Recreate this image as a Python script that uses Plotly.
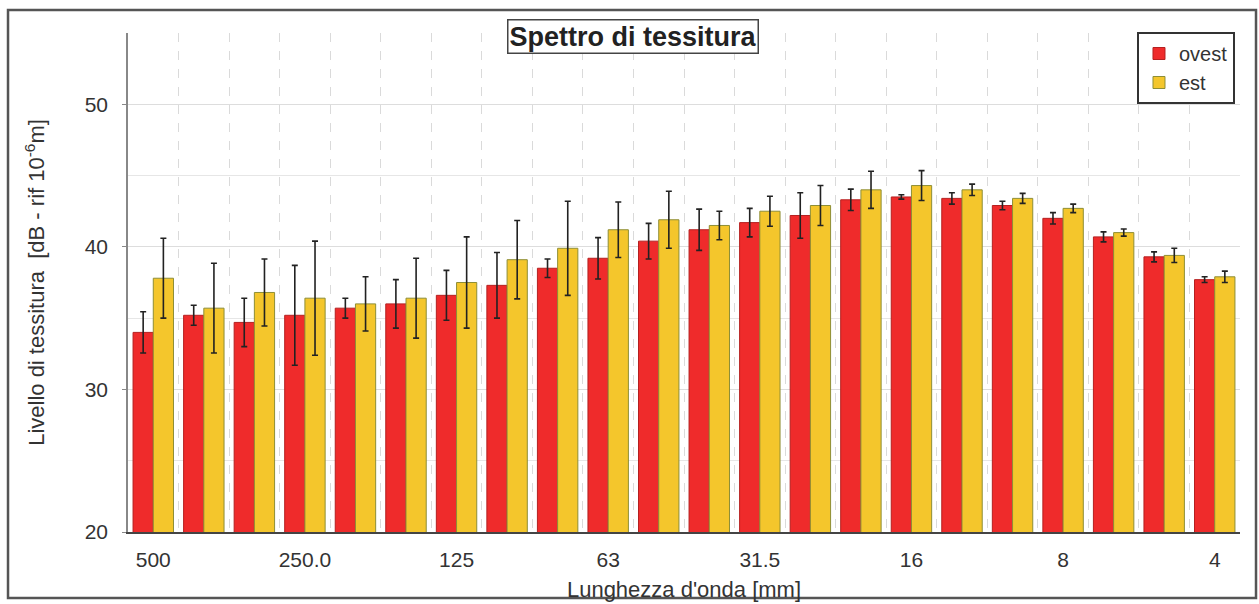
import plotly.graph_objects as go

# Categories: wavelength bands [mm] (third-octave), labelled every third band
categories = ["500", "400", "315", "250.0", "200", "160", "125", "100", "80", "63", "50",
              "40", "31.5", "25", "20", "16", "12.5", "10", "8", "6.3", "5", "4"]
tick_labels = ["500", "250.0", "125", "63", "31.5", "16", "8", "4"]

ovest = [34.0, 35.2, 34.7, 35.2, 35.7, 36.0, 36.6, 37.3, 38.5, 39.2, 40.4,
         41.2, 41.7, 42.2, 43.3, 43.5, 43.4, 42.9, 42.0, 40.7, 39.3, 37.7]
ovest_err = [1.45, 0.7, 1.7, 3.5, 0.7, 1.7, 1.75, 2.3, 0.65, 1.45, 1.25,
             1.45, 1.0, 1.6, 0.75, 0.15, 0.4, 0.3, 0.4, 0.35, 0.35, 0.2]

est = [37.8, 35.7, 36.8, 36.4, 36.0, 36.4, 37.5, 39.1, 39.9, 41.2, 41.9,
       41.5, 42.5, 42.9, 44.0, 44.3, 44.0, 43.4, 42.7, 41.0, 39.4, 37.9]
est_err = [2.8, 3.15, 2.35, 4.0, 1.9, 2.8, 3.2, 2.75, 3.3, 1.95, 2.0,
           1.0, 1.05, 1.4, 1.3, 1.05, 0.4, 0.35, 0.3, 0.25, 0.5, 0.4]

x_idx = list(range(len(categories)))
tick_idx = [categories.index(t) for t in tick_labels]

FONT = "Arial, Liberation Sans, Helvetica, sans-serif"
TXT = "#333333"

fig = go.Figure()
fig.add_trace(go.Bar(
    x=x_idx, y=ovest, name="ovest", legendgroup="ovest",
    marker=dict(color="#EF2B2B", line=dict(color="#B52020", width=1)),
    error_y=dict(type="data", array=ovest_err, visible=True,
                 color="#222222", thickness=1.6, width=3),
))
fig.add_trace(go.Bar(
    x=x_idx, y=est, name="est", legendgroup="est",
    marker=dict(color="#F4C62C", line=dict(color="#8E8E36", width=1)),
    error_y=dict(type="data", array=est_err, visible=True,
                 color="#222222", thickness=1.6, width=3),
))

fig.update_layout(
    width=1259, height=604,
    margin=dict(l=128, r=19, t=33, b=72),
    paper_bgcolor="white", plot_bgcolor="white",
    barmode="group", bargap=0.2, bargroupgap=0.0,
    font=dict(family=FONT, color=TXT),
    showlegend=True,
    legend=dict(
        x=0.9955, xanchor="right", y=1.002, yanchor="top",
        bgcolor="white", bordercolor="#333333", borderwidth=2,
        font=dict(size=20, color=TXT, family=FONT),
        traceorder="grouped", tracegroupgap=0, itemwidth=30,
    ),
    xaxis=dict(
        range=[-0.5, len(categories) - 0.5], automargin=False,
        tickmode="array", tickvals=tick_idx, ticktext=tick_labels,
        tickfont=dict(size=21, color=TXT),
        ticklabelstandoff=8,
        showgrid=False, zeroline=False,
        showline=True, linecolor="#444444", linewidth=1.5,
        ticks="",
        minor=dict(tick0=0.5, dtick=1, showgrid=True, gridcolor="#DADADA",
                   griddash="dash", gridwidth=1),
        title=dict(text="Lunghezza d'onda [mm]", font=dict(size=22, color=TXT),
                   standoff=12),
    ),
    yaxis=dict(
        range=[20, 55], tickmode="linear", tick0=20, dtick=10, automargin=False,
        tickfont=dict(size=21, color=TXT),
        ticklabelstandoff=10,
        showgrid=True, gridcolor="#DDDDDD", gridwidth=1, zeroline=False,
        showline=True, linecolor="#888888", linewidth=1.5,
        ticks="outside", ticklen=4, tickcolor="#888888",
        minor=dict(dtick=5, showgrid=True, gridcolor="#E6E6E6", gridwidth=1),
        title=dict(text="Livello di tessitura  [dB - rif 10<sup>-6</sup>m]",
                   font=dict(size=22, color=TXT), standoff=34),
    ),
    shapes=[dict(
        type="rect", xref="paper", yref="paper",
        x0=-0.1079, x1=1.0144, y0=-0.1323, y1=1.046,
        line=dict(color="#555555", width=2.5), fillcolor="rgba(0,0,0,0)",
        layer="above",
    )],
    annotations=[dict(
        text="<b>Spettro di tessitura</b>", xref="paper", yref="paper",
        x=0.454, y=0.992, xanchor="center", yanchor="middle", showarrow=False,
        font=dict(size=27, color="#222222", family=FONT),
        bgcolor="white", bordercolor="#444444", borderwidth=1.5, borderpad=1,
    )],
)

fig.write_html("out.html", config={"displayModeBar": False},
               post_script="document.body.style.margin='0';document.body.style.overflow='hidden';")
